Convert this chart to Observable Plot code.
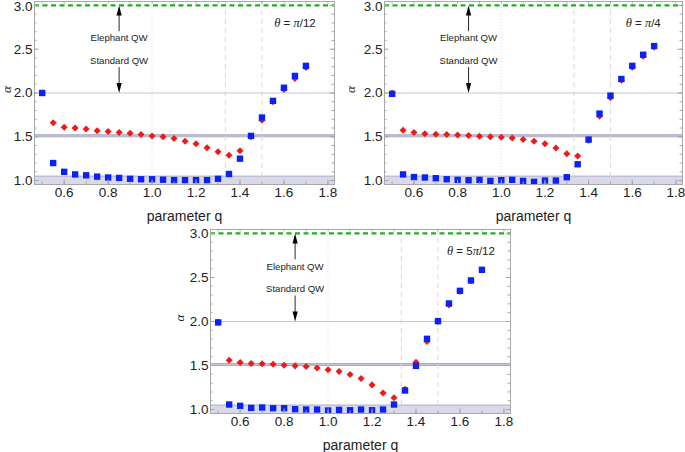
<!DOCTYPE html>
<html>
<head>
<meta charset="utf-8">
<script src="https://cdn.jsdelivr.net/npm/d3@7"></script>
<script src="https://cdn.jsdelivr.net/npm/@observablehq/plot@0.6"></script>
<style>
  html, body { margin: 0; padding: 0; background: #fff; }
  #root { position: relative; width: 685px; height: 452px; overflow: hidden; font-family: "Liberation Sans", Arial, sans-serif; }
  .panel { position: absolute; }
</style>
</head>
<body>
<div id="root"></div>
<script>
// ---- data ----
const qValues = [0.5, 0.55, 0.6, 0.65, 0.7, 0.75, 0.8, 0.85, 0.9, 0.95, 1.0, 1.05, 1.1, 1.15, 1.2, 1.25, 1.3, 1.35, 1.4, 1.45, 1.5, 1.55, 1.6, 1.65, 1.7];

// theta = pi/12
const redPi12  = [2.0, 1.66, 1.61, 1.60, 1.59, 1.57, 1.56, 1.55, 1.54, 1.525, 1.51, 1.50, 1.48, 1.45, 1.42, 1.375, 1.33, 1.29, 1.34, 1.50, 1.69, 1.90, 2.04, 2.165, 2.29];
const bluePi12 = [2.0, 1.20, 1.10, 1.07, 1.06, 1.045, 1.035, 1.03, 1.02, 1.015, 1.015, 1.01, 1.005, 1.005, 1.005, 1.005, 1.02, 1.075, 1.25, 1.51, 1.72, 1.91, 2.06, 2.195, 2.31];
// theta = pi/4
const redPi4   = [2.0, 1.575, 1.55, 1.535, 1.53, 1.525, 1.52, 1.515, 1.505, 1.50, 1.495, 1.487, 1.47, 1.45, 1.42, 1.373, 1.305, 1.28, 1.46, 1.735, 1.945, 2.145, 2.295, 2.42, 2.525];
const bluePi4  = [1.99, 1.07, 1.04, 1.035, 1.027, 1.015, 1.008, 1.004, 1.008, 0.996, 1.004, 1.008, 0.996, 0.985, 1.0, 1.0, 1.038, 1.186, 1.468, 1.765, 1.97, 2.16, 2.31, 2.437, 2.536];
// theta = 5pi/12
const red5Pi12  = [1.99, 1.56, 1.535, 1.523, 1.519, 1.515, 1.504, 1.496, 1.489, 1.473, 1.451, 1.432, 1.398, 1.352, 1.28, 1.189, 1.133, 1.231, 1.538, 1.773, 2.0, 2.189, 2.345, 2.462, 2.585];
const blue5Pi12 = [1.99, 1.057, 1.042, 1.019, 1.023, 1.015, 1.015, 1.004, 1.0, 1.0, 0.989, 0.996, 0.992, 1.0, 0.992, 1.0, 1.057, 1.216, 1.496, 1.803, 2.004, 2.205, 2.348, 2.466, 2.587];

const xTicks = [0.6, 0.8, 1.0, 1.2, 1.4, 1.6, 1.8];
const yTicks = [1.0, 1.5, 2.0, 2.5];
const yTopTick = [3.0];
const yMajorTicks = [1.0, 1.5, 2.0, 2.5, 3.0];
const xMinorTicks = [0.5, 0.6, 0.7, 0.8, 0.9, 1.0, 1.1, 1.2, 1.3, 1.4, 1.5, 1.6, 1.7, 1.8];
const yMinorTicks = [1.0, 1.1, 1.2, 1.3, 1.4, 1.5, 1.6, 1.7, 1.8, 1.9, 2.0, 2.1, 2.2, 2.3, 2.4, 2.5, 2.6, 2.7, 2.8, 2.9, 3.0];

const xDomain = [0.465, 1.83];
const yDomain = [0.955, 3.045];

const dottedLines = [1.0];
const dashedLines = [4 / 3, 1.5];
const refLines = [2.0];
const ballisticLine = [3.0];
const bands = [
  {lo: 0.95, hi: 1.05, fill: "#d9d9ea", edge: "#b4b4cc"},
  {lo: 1.50, hi: 1.522, fill: "#c9c9dc", edge: "#a8a8c0"}
];
const annotX = 0.85;
const arrowStems = [{y1: 2.70, y2: 2.95}, {y1: 2.29, y2: 2.05}];
const arrowHeads = [{y: 3.0, dir: "up"}, {y: 2.0, dir: "down"}];
const annotTexts = [{y: 2.625, t: "Elephant QW"}, {y: 2.37, t: "Standard QW"}];
const thetaPos = {x: 1.65, y: 2.80};

const panels = [
  {theta: ["θ", " = ", "π", "/12"],  red: redPi12,  blue: bluePi12,  left: 0,   top: 0,   width: 340, height: 225, ml: 34, mr: 6, mt: 1, mb: 41, alphaDx: -28},
  {theta: ["θ", " = ", "π", "/4"],   red: redPi4,   blue: bluePi4,   left: 340, top: 0,   width: 345, height: 225, ml: 44, mr: 3, mt: 1, mb: 41, alphaDx: -34},
  {theta: ["θ", " = 5", "π", "/12"], red: red5Pi12, blue: blue5Pi12, left: 150, top: 220, width: 365, height: 232, ml: 60, mr: 5, mt: 9, mb: 39, alphaDx: -31}
];

// custom symbols
const diamondSym = {draw(ctx, size) { const h = Math.sqrt(size) * 0.62; ctx.moveTo(0, -h); ctx.lineTo(h, 0); ctx.lineTo(0, h); ctx.lineTo(-h, 0); ctx.closePath(); }};
const headUp = {draw(ctx) { ctx.moveTo(0, 0); ctx.lineTo(2.6, 10); ctx.lineTo(-2.6, 10); ctx.closePath(); }};
const headDown = {draw(ctx) { ctx.moveTo(0, 0); ctx.lineTo(2.6, -10); ctx.lineTo(-2.6, -10); ctx.closePath(); }};

const root = document.getElementById("root");
const tickColor = "#a8a8a8";

for (const p of panels) {
  const red = qValues.map((q, i) => ({q, a: p.red[i]}));
  const blue = qValues.map((q, i) => ({q, a: p.blue[i]}));
  const pw = p.width - p.ml - p.mr;
  const ph = p.height - p.mt - p.mb;
  const thetaStr = p.theta.join("");
  const chart = Plot.plot({
    width: p.width,
    height: p.height,
    marginLeft: p.ml,
    marginRight: p.mr,
    marginTop: p.mt,
    marginBottom: p.mb,
    x: {domain: xDomain},
    y: {domain: yDomain},
    style: {fontFamily: "Liberation Sans, Arial, sans-serif", fontSize: "13px", color: "#222", background: "transparent", overflow: "visible"},
    marks: [
      Plot.rect(bands, {x1: () => xDomain[0], x2: () => xDomain[1], y1: "lo", y2: "hi", fill: "fill", clip: true}),
      Plot.ruleY(bands, {y: "hi", stroke: "edge", strokeWidth: 1}),
      Plot.ruleY(bands.slice(1), {y: "lo", stroke: "edge", strokeWidth: 1}),
      Plot.ruleX(dottedLines, {stroke: "#dcdcdc", strokeDasharray: "1,2"}),
      Plot.ruleX(dashedLines, {stroke: "#dadada", strokeDasharray: "5,4"}),
      Plot.ruleY(refLines, {stroke: "#c8c8c8"}),
      Plot.ruleY(ballisticLine, {stroke: "#22b01c", strokeWidth: 2.2, strokeDasharray: "5,3.5"}),
      Plot.ruleX(arrowStems, {x: () => annotX, y1: "y1", y2: "y2", stroke: "#111", strokeWidth: 0.9}),
      Plot.dot(arrowHeads.filter(d => d.dir === "up"), {x: () => annotX, y: "y", symbol: headUp, fill: "#000", stroke: null}),
      Plot.dot(arrowHeads.filter(d => d.dir === "down"), {x: () => annotX, y: "y", symbol: headDown, fill: "#000", stroke: null}),
      Plot.text(annotTexts, {x: () => annotX, y: "y", text: "t", fontSize: 9.6, fill: "#222"}),
      Plot.text([thetaStr], {x: () => thetaPos.x, y: () => thetaPos.y, text: d => d, fontSize: 11.5, fill: "#222", className: "theta-label"}),
      Plot.dot(red, {x: "q", y: "a", symbol: diamondSym, r: 3.2, fill: "#ee1a1a", stroke: null}),
      Plot.dot(blue, {x: "q", y: "a", symbol: "square", r: 3.6, fill: "#0a22f5", stroke: null}),
      Plot.frame({stroke: tickColor, strokeWidth: 1}),
      // inward ticks
      Plot.tickY(yMinorTicks, {y: d => d, insetRight: pw - 2.5, stroke: tickColor}),
      Plot.tickY(yMajorTicks, {y: d => d, insetRight: pw - 4.5, stroke: tickColor}),
      Plot.tickY(yMinorTicks, {y: d => d, insetLeft: pw - 2.5, stroke: tickColor}),
      Plot.tickY(yMajorTicks, {y: d => d, insetLeft: pw - 4.5, stroke: tickColor}),
      Plot.tickX(xMinorTicks, {x: d => d, insetTop: ph - 2.5, stroke: tickColor}),
      Plot.tickX(xTicks, {x: d => d, insetTop: ph - 4.5, stroke: tickColor}),
      Plot.tickX(xMinorTicks, {x: d => d, insetBottom: ph - 2.5, stroke: tickColor}),
      Plot.axisX({ticks: xTicks, tickSize: 0, tickPadding: 3, tickFormat: d3.format(".1f"), label: null, fontSize: 13.5}),
      Plot.axisY({ticks: yTicks, tickSize: 0, tickPadding: 2, tickFormat: d3.format(".1f"), label: null, fontSize: 13.5}),
      Plot.axisY({ticks: yTopTick, tickSize: 0, tickPadding: 2, tickFormat: d3.format(".1f"), label: null, fontSize: 13.5, dy: p.mt < 5 ? 1.5 : 0}),
      Plot.text(["α"], {frameAnchor: "left", dx: p.alphaDx, rotate: -90, fontSize: 13, fontStyle: "italic", fontFamily: "Liberation Serif, serif", fill: "#222"}),
      Plot.text(["parameter q"], {frameAnchor: "bottom", dy: 36, fontSize: 14, fill: "#222"})
    ]
  });
  // rich theta label: italic serif Greek letters, upright rest
  const tl = chart.querySelector(".theta-label text");
  if (tl) {
    tl.textContent = "";
    const ns = "http://www.w3.org/2000/svg";
    p.theta.forEach((s, i) => {
      const ts = document.createElementNS(ns, "tspan");
      ts.textContent = s;
      if (s === "θ" || s === "π") { ts.setAttribute("font-style", "italic"); ts.setAttribute("font-family", "Liberation Serif, serif"); ts.setAttribute("font-size", "12.5"); }
      tl.appendChild(ts);
    });
  }
  const div = document.createElement("div");
  div.className = "panel";
  div.style.left = p.left + "px";
  div.style.top = p.top + "px";
  div.appendChild(chart);
  root.appendChild(div);
}
</script>
</body>
</html>
